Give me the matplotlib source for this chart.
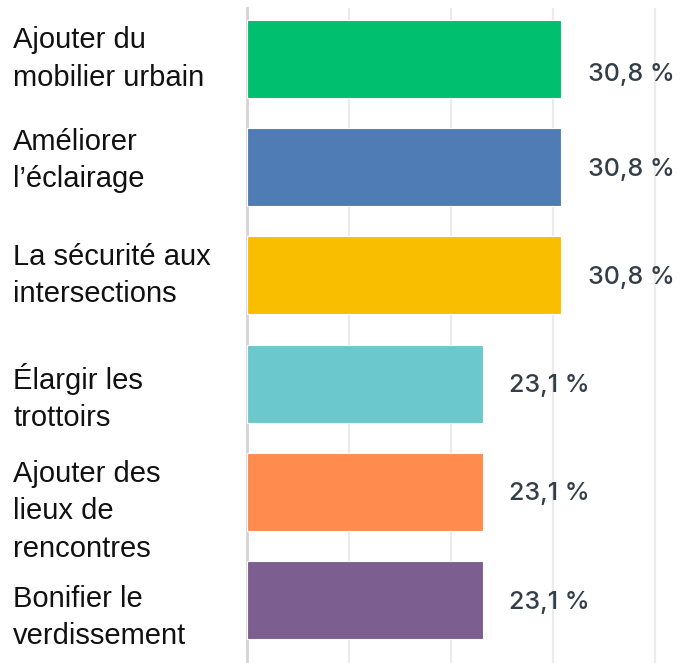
import matplotlib
matplotlib.use("Agg")
import matplotlib.pyplot as plt

categories = [
    "Ajouter du\nmobilier urbain",
    "Améliorer\nl’éclairage",
    "La sécurité aux\nintersections",
    "Élargir les\ntrottoirs",
    "Ajouter des\nlieux de\nrencontres",
    "Bonifier le\nverdissement",
]
values = [30.8, 30.8, 30.8, 23.1, 23.1, 23.1]
value_labels = ["30,8 %", "30,8 %", "30,8 %", "23,1 %", "23,1 %", "23,1 %"]
colors = ["#00BF6F", "#507CB6", "#F9BE00", "#6BC8CD", "#FF8B4F", "#7D5E90"]

W, H = 685, 663
fig = plt.figure(figsize=(W / 100, H / 100), dpi=100)

# axes: x from 247px to right edge, y from 8px to bottom
left_px, top_px = 247, 8
ax = fig.add_axes([left_px / W, 0, (W - left_px) / W, (H - top_px) / H])

pitch = 108.2
first_center = 59
ax.set_ylim((H - first_center) / pitch, (top_px - first_center) / pitch)
ax.set_xlim(0, (W - left_px) / 10.2)

pos = list(range(len(values)))
ax.barh(pos, values, height=78 / pitch, color=colors, edgecolor="#ffffff",
        linewidth=0.8, zorder=3)

ax.set_xticks([10, 20, 30, 40])
ax.grid(axis="x", color="#ebebeb", linewidth=1.6, zorder=0)
ax.tick_params(length=0, labelbottom=False, labelleft=False)
for s in ["top", "right", "bottom"]:
    ax.spines[s].set_visible(False)
ax.spines["left"].set_color("#d4d4d4")
ax.spines["left"].set_linewidth(2)

# value labels
for i, (v, lab) in enumerate(zip(values, value_labels)):
    dy = 0.14 if i == 0 else 0.02
    ax.text(v + 2.6, i + dy, lab, va="center", ha="left", fontsize=18,
            family="Inter", fontweight="medium", color="#333e48", zorder=4)

# category labels on the left
label_offsets = [0.0, -0.06, 0.0, 0.13, 0.18, 0.16]
for i, (cat, off) in enumerate(zip(categories, label_offsets)):
    y_fig = ax.transData.transform((0, i + off))[1]
    fig.text(13 / W, y_fig / H, cat, va="center", ha="left", fontsize=21,
             family="Liberation Sans", color="#111111", linespacing=1.42)

fig.savefig("out.png", dpi=100)
